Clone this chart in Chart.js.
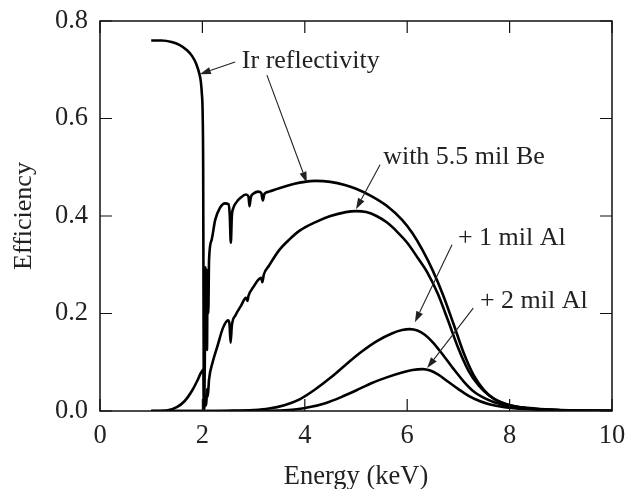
<!DOCTYPE html>
<html>
<head>
<meta charset="utf-8">
<script src="https://cdn.jsdelivr.net/npm/chart.js@4.4.1/dist/chart.umd.min.js"></script>
<style>
  html, body { margin: 0; padding: 0; background: #fff; }
  canvas { display: block; }
</style>
</head>
<body>
<canvas id="chart" width="626" height="489"></canvas>
<script>
// Ir mirror reflectivity
const irEnergy = [1.0,1.2,1.4,1.55,1.7,1.8,1.88,1.94,1.97,1.99,2.005,2.015,2.02,2.025,2.03,2.045,2.06,2.07,2.08,2.09,2.1,2.115,2.13,2.18,2.25,2.34,2.44,2.51,2.535,2.555,2.575,2.6,2.67,2.75,2.85,2.9,2.92,2.945,3.0,3.09,3.15,3.18,3.21,3.3,3.5,3.8,4.0,4.2,4.5,4.8,5.0,5.3,5.6,5.9,6.1,6.3,6.5,6.7,6.9,7.1,7.3,7.5,7.7,8.0,8.5,9.0,9.5,10.0];
const irEff = [0.760,0.760,0.757,0.751,0.740,0.728,0.712,0.692,0.675,0.650,0.610,0.500,0.300,0.100,0.010,0.080,0.295,0.130,0.290,0.125,0.280,0.200,0.310,0.351,0.392,0.416,0.426,0.424,0.400,0.345,0.400,0.415,0.429,0.438,0.444,0.440,0.420,0.438,0.446,0.450,0.447,0.432,0.445,0.450,0.457,0.466,0.470,0.472,0.470,0.463,0.456,0.441,0.421,0.392,0.365,0.330,0.288,0.238,0.180,0.120,0.073,0.043,0.025,0.012,0.005,0.002,0.001,0.0005];

// with 5.5 mil Be window
const beEnergy = [1.0,1.3,1.5,1.65,1.8,1.9,1.97,2.01,2.02,2.035,2.06,2.075,2.09,2.105,2.13,2.2,2.3,2.4,2.5,2.53,2.55,2.575,2.65,2.75,2.85,2.88,2.9,3.0,3.1,3.15,3.17,3.2,3.3,3.5,3.7,3.9,4.2,4.5,4.8,5.0,5.2,5.4,5.6,5.8,6.0,6.2,6.4,6.6,6.8,7.0,7.2,7.4,7.6,7.8,8.0,8.5,9.0,10.0];
const beEff = [0,0.001,0.008,0.02,0.042,0.062,0.078,0.084,0.085,0.003,0.030,0.012,0.045,0.030,0.065,0.100,0.135,0.170,0.186,0.178,0.140,0.175,0.197,0.215,0.232,0.226,0.236,0.255,0.270,0.273,0.264,0.280,0.298,0.330,0.352,0.370,0.387,0.400,0.408,0.410,0.408,0.400,0.387,0.368,0.345,0.315,0.283,0.240,0.185,0.128,0.082,0.052,0.032,0.019,0.012,0.004,0.0015,0.0003];

// + 1 mil Al filter
const al1Energy = [1.0,2.0,2.5,3.0,3.3,3.6,3.9,4.2,4.5,4.8,5.1,5.4,5.7,5.9,6.05,6.2,6.35,6.5,6.7,6.9,7.1,7.3,7.5,7.7,8.0,8.5,9.0,10.0];
const al1Eff = [0,0,0.0005,0.002,0.005,0.012,0.024,0.044,0.068,0.095,0.121,0.143,0.159,0.166,0.168,0.165,0.156,0.141,0.115,0.087,0.061,0.040,0.027,0.018,0.010,0.004,0.0015,0.0003];

// + 2 mil Al filter
const al2Energy = [1.0,3.0,3.5,3.8,4.1,4.4,4.7,5.0,5.3,5.6,5.9,6.1,6.3,6.45,6.6,6.8,7.0,7.2,7.4,7.6,7.9,8.3,9.0,10.0];
const al2Eff = [0,0,0.001,0.003,0.008,0.016,0.028,0.042,0.057,0.069,0.079,0.084,0.086,0.083,0.075,0.060,0.045,0.031,0.021,0.014,0.008,0.004,0.0012,0.0002];

// axis ticks
const xTicks = [0, 2, 4, 6, 8, 10];
const yTicks = [0.0, 0.2, 0.4, 0.6, 0.8];

// curve labels (text start, baseline) and their arrows, in data units
const noteText = ['Ir reflectivity', 'with 5.5 mil Be', '+ 1 mil Al', '+ 2 mil Al'];
const noteAt = [[2.77, 0.704], [5.53, 0.507], [6.99, 0.341], [7.42, 0.211]];
const arrowFrom = [[2.64, 0.716], [3.26, 0.689], [5.47, 0.505], [6.875, 0.341], [7.29, 0.211]];
const arrowTo   = [[1.95, 0.691], [4.04, 0.468], [5.00, 0.414], [6.15, 0.182], [6.39, 0.088]];

const FONT = '"Liberation Serif", "Times New Roman", Times, serif';
const INK = '#222';
const TICK = 12;

const pairs = (xs, ys) => xs.map((v, i) => ({ x: v, y: ys[i] }));
const line = (label, xs, ys) => ({
  label, data: pairs(xs, ys),
  borderColor: '#000', borderWidth: 2.6, pointRadius: 0,
  fill: false, cubicInterpolationMode: 'monotone', showLine: true
});

const frameTicks = {
  id: 'frameTicks',
  afterDraw(chart) {
    const { ctx, chartArea: a, scales: { x, y } } = chart;
    ctx.save();
    ctx.strokeStyle = '#111';
    ctx.lineWidth = 1.5;
    ctx.strokeRect(a.left, a.top, a.right - a.left, a.bottom - a.top);
    ctx.lineWidth = 1.2;
    ctx.beginPath();
    xTicks.forEach(v => {
      const px = x.getPixelForValue(v);
      ctx.moveTo(px, a.bottom); ctx.lineTo(px, a.bottom - TICK);
      ctx.moveTo(px, a.top); ctx.lineTo(px, a.top + TICK);
    });
    yTicks.forEach(v => {
      const py = y.getPixelForValue(v);
      ctx.moveTo(a.left, py); ctx.lineTo(a.left + TICK, py);
      ctx.moveTo(a.right, py); ctx.lineTo(a.right - TICK, py);
    });
    ctx.stroke();
    ctx.restore();
  }
};

const notes = {
  id: 'notes',
  afterDatasetsDraw(chart) {
    const { ctx, scales: { x, y } } = chart;
    const P = p => [x.getPixelForValue(p[0]), y.getPixelForValue(p[1])];
    ctx.save();
    ctx.fillStyle = INK;
    ctx.font = '26px ' + FONT;
    ctx.textAlign = 'left';
    ctx.textBaseline = 'alphabetic';
    noteText.forEach((t, i) => {
      const [px, py] = P(noteAt[i]);
      ctx.fillText(t, px, py);
    });
    ctx.strokeStyle = INK;
    ctx.lineWidth = 1.1;
    arrowFrom.forEach((f, i) => {
      const [x0, y0] = P(f);
      const [x1, y1] = P(arrowTo[i]);
      const ang = Math.atan2(y1 - y0, x1 - x0);
      const len = 11, half = 3.6;
      const bx = x1 - len * Math.cos(ang), by = y1 - len * Math.sin(ang);
      ctx.beginPath();
      ctx.moveTo(x0, y0); ctx.lineTo(bx, by);
      ctx.stroke();
      ctx.beginPath();
      ctx.moveTo(x1, y1);
      ctx.lineTo(bx + half * Math.sin(ang), by - half * Math.cos(ang));
      ctx.lineTo(bx - half * Math.sin(ang), by + half * Math.cos(ang));
      ctx.closePath();
      ctx.fill();
    });
    ctx.restore();
  }
};

new Chart(document.getElementById('chart'), {
  type: 'scatter',
  data: {
    datasets: [
      line('Ir reflectivity', irEnergy, irEff),
      line('with 5.5 mil Be', beEnergy, beEff),
      line('+ 1 mil Al', al1Energy, al1Eff),
      line('+ 2 mil Al', al2Energy, al2Eff)
    ]
  },
  options: {
    responsive: false,
    devicePixelRatio: 1,
    animation: false,
    layout: { padding: { top: 21, right: 14, left: 0, bottom: 0 } },
    plugins: { legend: { display: false }, tooltip: { enabled: false } },
    scales: {
      x: {
        type: 'linear', min: 0, max: 10,
        afterFit: s => { s.height = 78; s.paddingLeft = 0; s.paddingRight = 0; },
        afterBuildTicks: s => { s.ticks = xTicks.map(v => ({ value: v })); },
        grid: { display: false, drawTicks: false },
        border: { display: false },
        ticks: { padding: 9, color: INK, font: { family: FONT, size: 26.5 }, maxRotation: 0, callback: v => String(v) },
        title: { display: true, text: 'Energy (keV)', color: INK, font: { family: FONT, size: 26.5, lineHeight: 0.9 }, padding: { top: 0, bottom: 0 } }
      },
      y: {
        type: 'linear', min: 0, max: 0.8,
        afterFit: s => { s.width = 100; s.paddingTop = 0; s.paddingBottom = 0; },
        afterBuildTicks: s => { s.ticks = yTicks.map(v => ({ value: v })); },
        grid: { display: false, drawTicks: false },
        border: { display: false },
        ticks: { padding: 12, color: INK, font: { family: FONT, size: 26.5 }, callback: v => Number(v).toFixed(1) },
        title: { display: true, text: 'Efficiency', color: INK, font: { family: FONT, size: 26, lineHeight: 0.9 }, padding: { top: 12, bottom: 0 } }
      }
    }
  },
  plugins: [frameTicks, notes]
});
</script>
</body>
</html>
